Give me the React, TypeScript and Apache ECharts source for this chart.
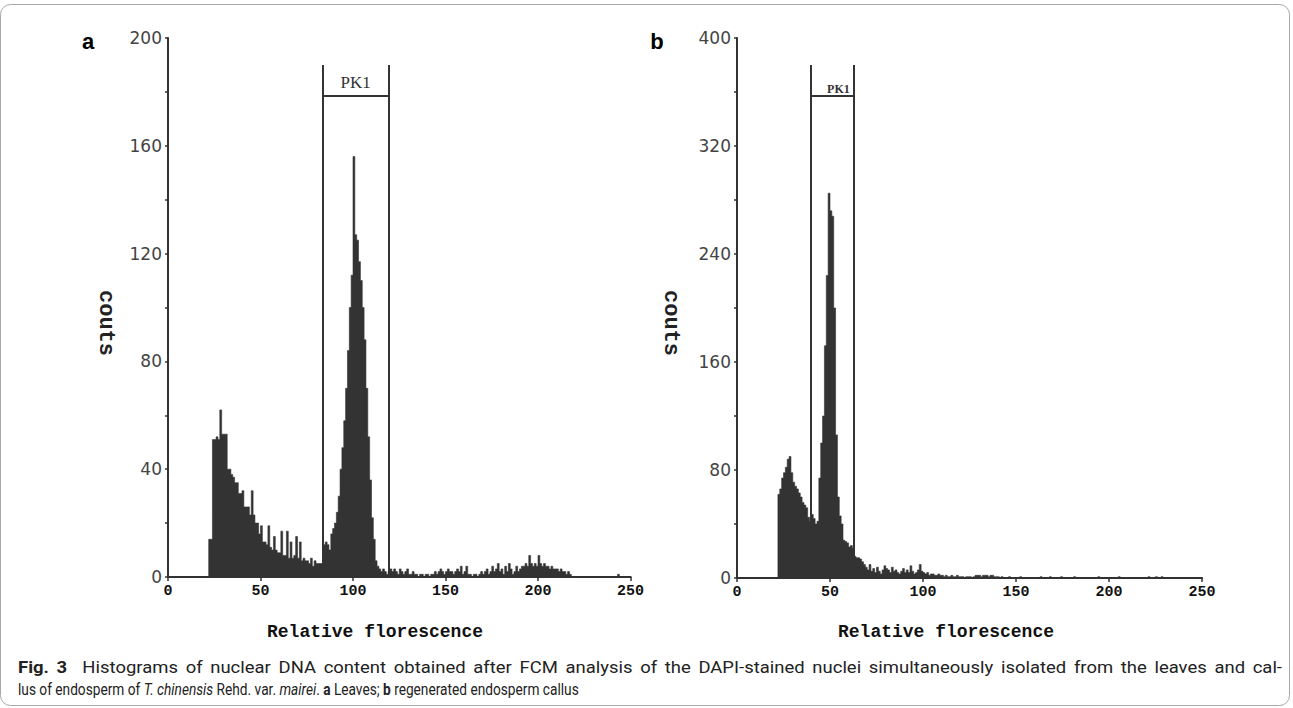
import React, { useEffect, useRef } from 'react';
import * as echarts from 'echarts';

// Relative fluorescence channel (bin start) -> counts, panel a (leaves)
const leavesCounts = [
  0, 0, 0, 0, 0, 0, 0, 0, 0, 0,
  0, 0, 0, 0, 0, 0, 0, 0, 0, 0,
  0, 0, 14, 14, 51, 51, 52, 51, 62, 53,
  53, 53, 40, 40, 38, 37, 35, 35, 31, 31,
  32, 26, 26, 26, 23, 32, 23, 20, 20, 16,
  19, 13, 13, 12, 19, 11, 10, 15, 10, 9,
  9, 17, 8, 8, 17, 7, 13, 7, 8, 15,
  7, 13, 6, 7, 6, 6, 5, 7, 4, 6,
  5, 5, 5, 5, 12, 13, 12, 10, 16, 18,
  20, 24, 30, 40, 48, 58, 70, 84, 100, 112,
  156, 127, 125, 117, 110, 100, 88, 70, 52, 36,
  22, 14, 6, 4, 3, 2, 3, 2, 1, 2,
  3, 2, 3, 2, 1, 3, 2, 1, 2, 3,
  1, 1, 2, 1, 1, 0, 1, 1, 0, 1,
  1, 0, 1, 1, 2, 1, 2, 3, 2, 1,
  2, 3, 2, 2, 1, 2, 3, 2, 4, 1,
  2, 4, 1, 1, 0, 1, 1, 0, 1, 2,
  1, 2, 3, 1, 2, 4, 2, 3, 5, 2,
  3, 1, 4, 2, 5, 3, 1, 2, 4, 2,
  3, 4, 4, 5, 4, 8, 5, 4, 5, 4,
  8, 5, 4, 5, 4, 4, 3, 4, 3, 3,
  3, 2, 3, 2, 2, 1, 2, 1, 0, 0,
  0, 0, 0, 0, 0, 0, 0, 0, 0, 0,
  0, 0, 0, 0, 0, 0, 0, 0, 0, 0,
  0, 0, 0, 1, 0, 0, 0, 0, 0, 0,
  0,
];

// panel b (regenerated endosperm callus)
const callusCounts = [
  0, 0, 0, 0, 0, 0, 0, 0, 0, 0,
  0, 0, 0, 0, 0, 0, 0, 0, 0, 0,
  0, 0, 62, 66, 74, 78, 82, 88, 90, 78,
  71, 68, 66, 63, 60, 56, 54, 52, 45, 42,
  47, 44, 40, 42, 74, 100, 120, 172, 224, 285,
  272, 268, 200, 106, 60, 46, 40, 28, 27, 26,
  23, 24, 22, 16, 15, 15, 14, 12, 10, 8,
  6, 10, 5, 7, 4, 8, 5, 3, 6, 9,
  7, 6, 4, 8, 5, 6, 4, 3, 5, 7,
  4, 6, 4, 9, 5, 3, 4, 6, 10, 5,
  4, 3, 4, 2, 3, 3, 2, 2, 3, 2,
  2, 1, 2, 1, 1, 2, 1, 1, 2, 1,
  1, 1, 0, 1, 1, 1, 0, 1, 2, 2,
  2, 1, 2, 2, 2, 1, 2, 2, 1, 1,
  1, 0, 1, 0, 0, 0, 1, 0, 0, 0,
  0, 0, 1, 0, 0, 0, 0, 0, 0, 0,
  0, 0, 0, 1, 0, 0, 0, 0, 1, 0,
  0, 0, 0, 0, 1, 0, 0, 0, 0, 0,
  0, 1, 0, 0, 0, 0, 0, 0, 0, 0,
  0, 0, 0, 0, 1, 0, 0, 0, 0, 0,
  0, 0, 0, 0, 0, 1, 0, 0, 0, 0,
  0, 0, 0, 0, 0, 0, 0, 0, 0, 0,
  0, 1, 0, 0, 0, 1, 0, 0, 1, 0,
  0, 0, 0, 0, 0, 0, 0, 0, 0, 0,
  0, 0, 0, 0, 0, 0, 0, 0, 0, 0,
  0,
];

// axis ranges
const xMax = 250;
const xInterval = 50;
const leavesYMax = 200;
const leavesYInterval = 40;
const callusYMax = 400;
const callusYInterval = 80;

// PK1 gates: [left, right], top of verticals, height of bar
const leavesGate = [83.6, 119.2];
const leavesGateTop = 190;
const leavesGateBar = 178.5;
const callusGate = [39.8, 62.8];
const callusGateTop = 380;
const callusGateBar = 357;
const gateLabel = 'PK1';

const axisColor = '#333';
const fillColor = '#333';

// caption tokens: [text, style]  (b = bold, i = italic, n = normal, j = joined)
const captionLine1: [string, string][] = [
  ['Fig.', 'b'], ['3', 'b'], ['Histograms', 'n'], ['of', 'n'], ['nuclear', 'n'], ['DNA', 'n'],
  ['content', 'n'], ['obtained', 'n'], ['after', 'n'], ['FCM', 'n'], ['analysis', 'n'], ['of', 'n'],
  ['the', 'n'], ['DAPI-stained', 'n'], ['nuclei', 'n'], ['simultaneously', 'n'], ['isolated', 'n'],
  ['from', 'n'], ['the', 'n'], ['leaves', 'n'], ['and', 'n'], ['cal-', 'n'],
];
const captionLine2: [string, string][] = [
  ['lus', 'n'], ['of', 'n'], ['endosperm', 'n'], ['of', 'n'], ['T.', 'i'], ['chinensis', 'i'],
  ['Rehd.', 'n'], ['var.', 'n'], ['mairei', 'i'], ['.', 'j'], ['a', 'b'], ['Leaves;', 'n'], ['b', 'b'],
  ['regenerated', 'n'], ['endosperm', 'n'], ['callus', 'n'],
];

const capFamily = 'Roboto';
const capSize = 16.5;

function toSteps(counts: number[]) {
  const pts = counts.map((c, i) => [i, c]);
  pts.push([counts.length, 0]);
  return pts;
}

function xAxisCfg(gridIndex: number) {
  return {
    type: 'value',
    gridIndex,
    min: 0,
    max: xMax,
    interval: xInterval,
    axisLine: { show: true, onZero: false, lineStyle: { color: axisColor, width: 2 } },
    axisTick: { show: true, length: 4, lineStyle: { color: axisColor, width: 1.5 } },
    axisLabel: {
      fontFamily: 'Liberation Mono',
      fontWeight: 'bold',
      fontSize: 15,
      color: '#111',
      margin: 7,
    },
    splitLine: { show: false },
  };
}

function yAxisCfg(gridIndex: number, max: number, interval: number) {
  return {
    type: 'value',
    gridIndex,
    min: 0,
    max,
    interval,
    axisLine: { show: true, onZero: false, lineStyle: { color: axisColor, width: 2 } },
    axisTick: { show: true, length: 3, lineStyle: { color: axisColor, width: 1.5 } },
    minorTick: { show: true, splitNumber: 2, length: 3, lineStyle: { color: axisColor, width: 1.5 } },
    axisLabel: { fontFamily: 'DejaVu Sans', fontSize: 17, color: '#444', margin: 6 },
    splitLine: { show: false },
    minorSplitLine: { show: false },
  };
}

function gateLines(gate: number[], top: number, bar: number, labelCfg: any) {
  return {
    symbol: 'none',
    silent: true,
    animation: false,
    lineStyle: { color: '#333', width: 2, type: 'solid' },
    label: { show: false },
    data: [
      [{ coord: [gate[0], 0] }, { coord: [gate[0], top] }],
      [{ coord: [gate[1], 0] }, { coord: [gate[1], top] }],
      [
        { coord: [gate[0], bar], label: { show: true, formatter: gateLabel, ...labelCfg } },
        { coord: [gate[1], bar] },
      ],
    ],
  };
}

function histSeries(idx: number, counts: number[], markLine: any) {
  return {
    type: 'line',
    xAxisIndex: idx,
    yAxisIndex: idx,
    step: 'end',
    symbol: 'none',
    data: toSteps(counts),
    lineStyle: { color: fillColor, width: 0.6 },
    areaStyle: { color: fillColor, opacity: 1 },
    markLine,
    silent: true,
  };
}

function fontOf(kind: string) {
  const w = kind === 'b' ? 'bold ' : '';
  const s = kind === 'i' ? 'italic ' : '';
  return `${s}${w}${capSize}px ${capFamily}`;
}

// lay a caption line out word by word; justify to width if given
function layoutCaption(tokens: [string, string][], x0: number, y: number, scale: number, width: number | null) {
  const canvas = document.createElement('canvas');
  const ctx = canvas.getContext('2d')!;
  const widths = tokens.map(([t, k]) => {
    ctx.font = fontOf(k);
    return ctx.measureText(t).width * scale;
  });
  ctx.font = fontOf('n');
  const spaceW = ctx.measureText(' ').width * scale;
  const gapUnits = tokens.map(([t, k], i) => {
    if (i === 0) return 0;
    if (k === 'j') return 0;
    if (tokens[i - 1][0] === '3' && tokens[i - 1][1] === 'b') return 2;
    return 1;
  });
  const totalUnits = gapUnits.reduce((a, b) => a + b, 0);
  const wordsW = widths.reduce((a, b) => a + b, 0);
  const gap = width ? Math.max(spaceW * 0.8, (width - wordsW) / totalUnits) : spaceW;
  const els: any[] = [];
  let x = x0;
  tokens.forEach(([t, k], i) => {
    x += gapUnits[i] * gap;
    els.push({
      type: 'text',
      x,
      y,
      scaleX: scale,
      silent: true,
      style: {
        text: t,
        fontFamily: capFamily,
        fontSize: capSize,
        fontWeight: k === 'b' ? 'bold' : 'normal',
        fontStyle: k === 'i' ? 'italic' : 'normal',
        fill: '#222',
        align: 'left',
        verticalAlign: 'middle',
      },
    });
    x += widths[i];
  });
  return els;
}

function buildOption() {
  const captionEls = [
    ...layoutCaption(captionLine1, 18, 667, 1.12, 1264),
    ...layoutCaption(captionLine2, 18, 690, 0.83, null),
  ];
  return {
    animation: false,
    backgroundColor: '#fff',
    grid: [
      { left: 168, top: 38, width: 462.5, height: 539 },
      { left: 737, top: 38, width: 465, height: 540 },
    ],
    xAxis: [xAxisCfg(0), xAxisCfg(1)],
    yAxis: [yAxisCfg(0, leavesYMax, leavesYInterval), yAxisCfg(1, callusYMax, callusYInterval)],
    series: [
      histSeries(
        0,
        leavesCounts,
        gateLines(leavesGate, leavesGateTop, leavesGateBar, {
          position: 'insideMiddleTop',
          distance: 5,
          fontFamily: 'Liberation Serif',
          fontSize: 17,
          color: '#333',
        })
      ),
      histSeries(
        1,
        callusCounts,
        gateLines(callusGate, callusGateTop, callusGateBar, {
          position: 'insideMiddleTop',
          distance: 1,
          offset: [6, 0],
          fontFamily: 'Liberation Serif',
          fontSize: 12,
          fontWeight: 'bold',
          color: '#333',
        })
      ),
    ],
    graphic: [
      {
        type: 'rect',
        shape: { x: 0.5, y: 4.5, width: 1289, height: 701, r: 10 },
        style: { fill: 'none', stroke: '#a8a8a8', lineWidth: 1 },
        silent: true,
      },
      {
        type: 'text', x: 88, y: 41,
        style: { text: 'a', fontFamily: 'Liberation Sans', fontWeight: 'bold', fontSize: 22, fill: '#000', align: 'center', verticalAlign: 'middle' },
      },
      {
        type: 'text', x: 657, y: 41,
        style: { text: 'b', fontFamily: 'Liberation Sans', fontWeight: 'bold', fontSize: 22, fill: '#000', align: 'center', verticalAlign: 'middle' },
      },
      {
        type: 'text', x: 105, y: 323, rotation: -Math.PI / 2,
        style: { text: 'couts', fontFamily: 'Liberation Mono', fontWeight: 'bold', fontSize: 22, fill: '#222', align: 'center', verticalAlign: 'middle' },
      },
      {
        type: 'text', x: 670, y: 323, rotation: -Math.PI / 2,
        style: { text: 'couts', fontFamily: 'Liberation Mono', fontWeight: 'bold', fontSize: 22, fill: '#222', align: 'center', verticalAlign: 'middle' },
      },
      {
        type: 'text', x: 375, y: 632,
        style: { text: 'Relative florescence', fontFamily: 'Liberation Mono', fontWeight: 'bold', fontSize: 18, fill: '#111', align: 'center', verticalAlign: 'middle' },
      },
      {
        type: 'text', x: 946, y: 632,
        style: { text: 'Relative florescence', fontFamily: 'Liberation Mono', fontWeight: 'bold', fontSize: 18, fill: '#111', align: 'center', verticalAlign: 'middle' },
      },
      ...captionEls,
    ],
  };
}

export default function App() {
  const ref = useRef<HTMLDivElement>(null);
  useEffect(() => {
    const chart = echarts.init(ref.current!, null, { renderer: 'svg' });
    chart.setOption(buildOption() as any);
    return () => chart.dispose();
  }, []);
  return (
    <div
      ref={ref}
      style={{ position: 'absolute', left: 0, top: 0, width: 1293, height: 708, background: '#fff' }}
    />
  );
}
